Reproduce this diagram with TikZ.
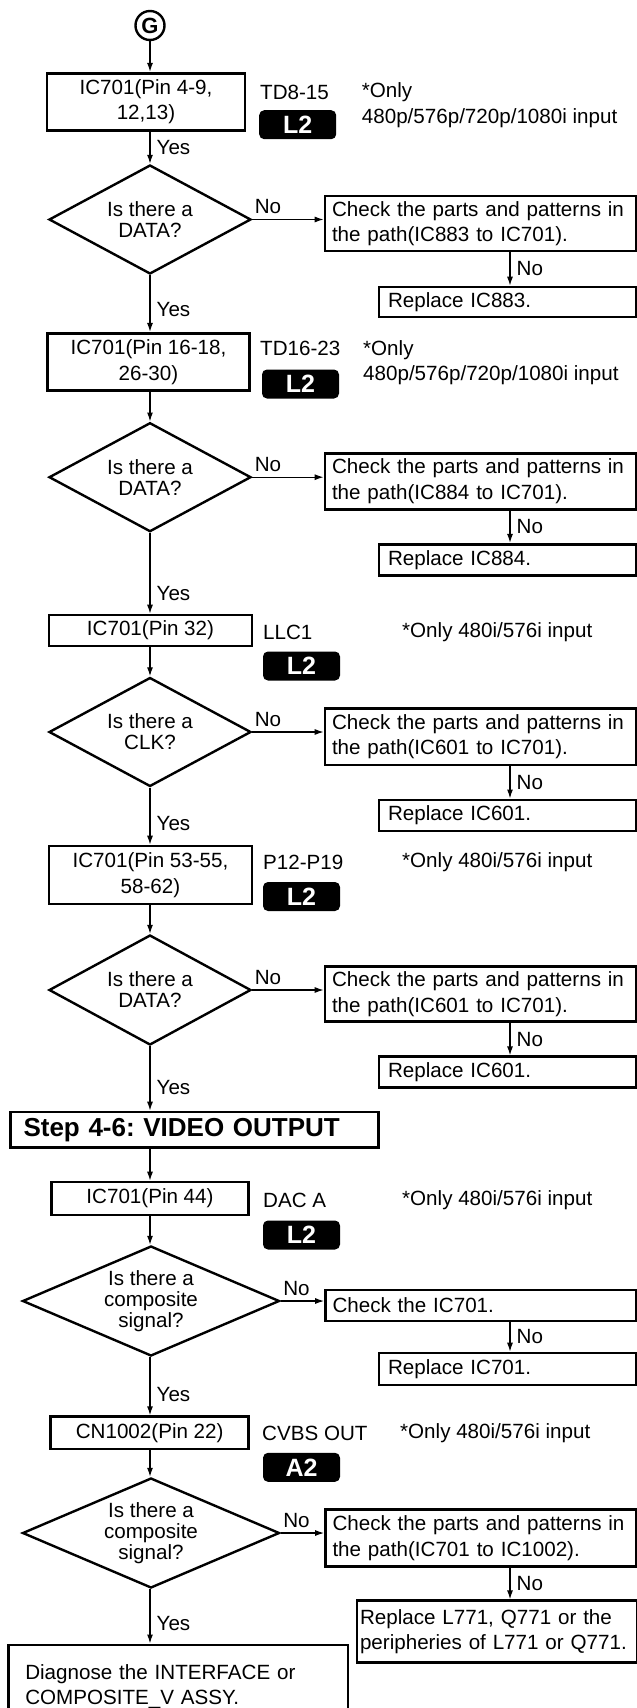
\documentclass[tikz,border=0pt]{standalone}
\usepackage{fontspec}
\setmainfont{Liberation Sans}
\usepackage{tikz}
\usetikzlibrary{shapes.geometric,arrows.meta,positioning,calc}
\frenchspacing
\tikzset{
  box/.style   ={rectangle, draw, line width=2.6pt, align=center, inner sep=0pt,
                 minimum width=200pt, minimum height=32pt},
  chk/.style   ={rectangle, draw, line width=2.6pt, align=left, inner xsep=7pt,
                 inner ysep=0pt, text width=297pt, minimum height=56pt},
  rep/.style   ={rectangle, draw, line width=2.6pt, align=left, inner xsep=9pt,
                 inner ysep=0pt, text width=239pt, minimum height=31pt},
  head/.style  ={rectangle, draw, line width=2.6pt, align=left, inner xsep=12.8pt,
                 inner ysep=0pt, text width=342pt, minimum height=35.5pt,
                 font=\fontsize{26}{26}\selectfont\bfseries},
  dec/.style   ={diamond, draw, line width=2.4pt, align=center, inner sep=0pt, aspect=1.85,
                 minimum width=202pt, minimum height=109pt, font=\fontsize{20.6}{21}\selectfont},
  decw/.style  ={dec, aspect=2.34, minimum width=257pt, minimum height=110pt},
  badge/.style ={rectangle, rounded corners=5pt, fill=black, text=white, inner sep=0pt,
                 minimum width=77pt, minimum height=29pt,
                 font=\fontsize{25}{25}\selectfont\bfseries},
  sig/.style   ={anchor=west, inner sep=0pt},
  note/.style  ={anchor=west, align=left, inner sep=0pt},
  flow/.style  ={-{Latex[length=9pt,width=6pt]}, line width=1.3pt},
  lbl/.style   ={inner sep=2pt}
}
\begin{document}
\begin{tikzpicture}[x=1pt, y=-1pt, font=\fontsize{20.6}{25.5}\selectfont]
\useasboundingbox (0,0) rectangle (637,1708);
\coordinate (col) at (150,0);
\coordinate (nx) at (510,0);

% Main column (tests on the left)
\node[draw, circle, line width=2.4pt, minimum size=29pt, inner sep=0pt,
      font=\fontsize{22}{22}\selectfont\bfseries] (g) at (150,25.5) {G};
\node[box, minimum height=57pt, minimum width=198pt] (b1) at (146,101.7) {IC701(Pin 4-9,\\12,13)};
\node[dec] (d1) at (150,219.5) {Is there a\\DATA?};
\node[box, minimum height=57.5pt, minimum width=202pt] (b2) at (148.5,362) {IC701(Pin 16-18,\\26-30)};
\node[dec] (d2) at (150,477.2) {Is there a\\DATA?};
\node[box, minimum height=31pt, minimum width=203pt] (b3) at (150.5,630.5) {IC701(Pin 32)};
\node[dec] (d3) at (150,732) {Is there a\\CLK?};
\node[box, minimum height=58pt, minimum width=203pt] (b4) at (150.5,875) {IC701(Pin 53-55,\\58-62)};
\node[dec, minimum height=110pt] (d4) at (150,990) {Is there a\\DATA?};
\node[head] (st) at (194.5,1129.7) {Step 4-6: VIDEO OUTPUT};
\node[box, minimum height=33pt, minimum width=197pt] (b5) at (150,1198.5) {IC701(Pin 44)};
\node[decw] (d5) at (151,1301) {Is there a\\composite\\signal?};
\node[box, minimum height=32.3pt, minimum width=198pt] (b6) at (149.7,1432.8) {CN1002(Pin 22)};
\node[decw] (d6) at (151,1533) {Is there a\\composite\\signal?};
\node[rep, inner xsep=16.7pt, text width=306pt, minimum height=83.4pt]
      (dg) at (178.3,1686.5) {Diagnose the INTERFACE or\\COMPOSITE\_V ASSY.};

% Checks and replacements on the right
\node[chk, minimum height=55pt] (c1) at (480.5,223.5) {Check the parts and patterns in\\the path(IC883 to IC701).};
\node[rep, minimum height=30pt] (r1) at (507.5,302) {Replace IC883.};
\node[chk] (c2) at (480.5,481.3) {Check the parts and patterns in\\the path(IC884 to IC701).};
\node[rep] (r2) at (507.5,559.7) {Replace IC884.};
\node[chk, minimum height=56.7pt] (c3) at (480.5,736.7) {Check the parts and patterns in\\the path(IC601 to IC701).};
\node[rep] (r3) at (507.5,815.3) {Replace IC601.};
\node[chk, minimum height=55pt] (c4) at (480.5,994.2) {Check the parts and patterns in\\the path(IC601 to IC701).};
\node[rep] (r4) at (507.5,1072.2) {Replace IC601.};
\node[chk, minimum height=31pt] (c5) at (481,1305.3) {Check the IC701.};
\node[rep, minimum height=32pt] (r5) at (507.5,1369) {Replace IC701.};
\node[chk, minimum height=57.4pt] (c6) at (481,1538) {Check the parts and patterns in\\the path(IC701 to IC1002).};
\node[rep, inner xsep=3pt, text width=274pt, minimum height=62pt]
      (r6) at (497,1631.7) {Replace L771, Q771 or the\\peripheries of L771 or Q771.};

% Signal names, page badges and notes
\node[sig] (s1) at (260,92.3) {TD8-15};
\node[badge] (p1) at (297.7,124.7) {L2};
\node[note] (n1) at (361.7,105) {*Only\\480p/576p/720p/1080i input};
\node[sig] (s2) at (260,348.3) {TD16-23};
\node[badge] (p2) at (300.5,384) {L2};
\node[note] (n2) at (363,362.8) {*Only\\480p/576p/720p/1080i input};
\node[sig] (s3) at (263,632) {LLC1};
\node[badge] (p3) at (301.5,666) {L2};
\node[note] (n3) at (402,632) {*Only 480i/576i input};
\node[sig] (s4) at (263,862) {P12-P19};
\node[badge] (p4) at (301.5,896.5) {L2};
\node[note] (n4) at (402,862) {*Only 480i/576i input};
\node[sig] (s5) at (263,1200) {DAC A};
\node[badge] (p5) at (301.5,1235) {L2};
\node[note] (n5) at (402,1200) {*Only 480i/576i input};
\node[sig] (s6) at (262,1433) {CVBS OUT};
\node[badge] (p6) at (301.5,1467.3) {A2};
\node[note] (n6) at (400,1433) {*Only 480i/576i input};

% Connectors
\foreach \a/\b in {g/b1, b2/d2, b3/d3, b4/d4, st/b5, b5/d5, b6/d6}
  {\draw[flow] (col |- \a.south) -- (col |- \b.north);}
\foreach \a/\b/\p in {b1/d1/0.5, d1/b2/0.6, d2/b3/0.75, d3/b4/0.63, d4/st/0.64, d5/b6/0.64, d6/dg/0.64}
  {\draw[flow] (col |- \a.south) -- node[lbl, pos=\p, right, xshift=4pt]{Yes} (col |- \b.north);}
\foreach \i in {1,...,6}{
  \draw[flow] (d\i.east) -- node[lbl, pos=0, anchor=south west, yshift=3pt]{No} (c\i.west |- d\i.east);
  \draw[flow] (nx |- c\i.south) -- node[lbl, right, xshift=4pt]{No} (nx |- r\i.north);
}
\end{tikzpicture}
\end{document}
